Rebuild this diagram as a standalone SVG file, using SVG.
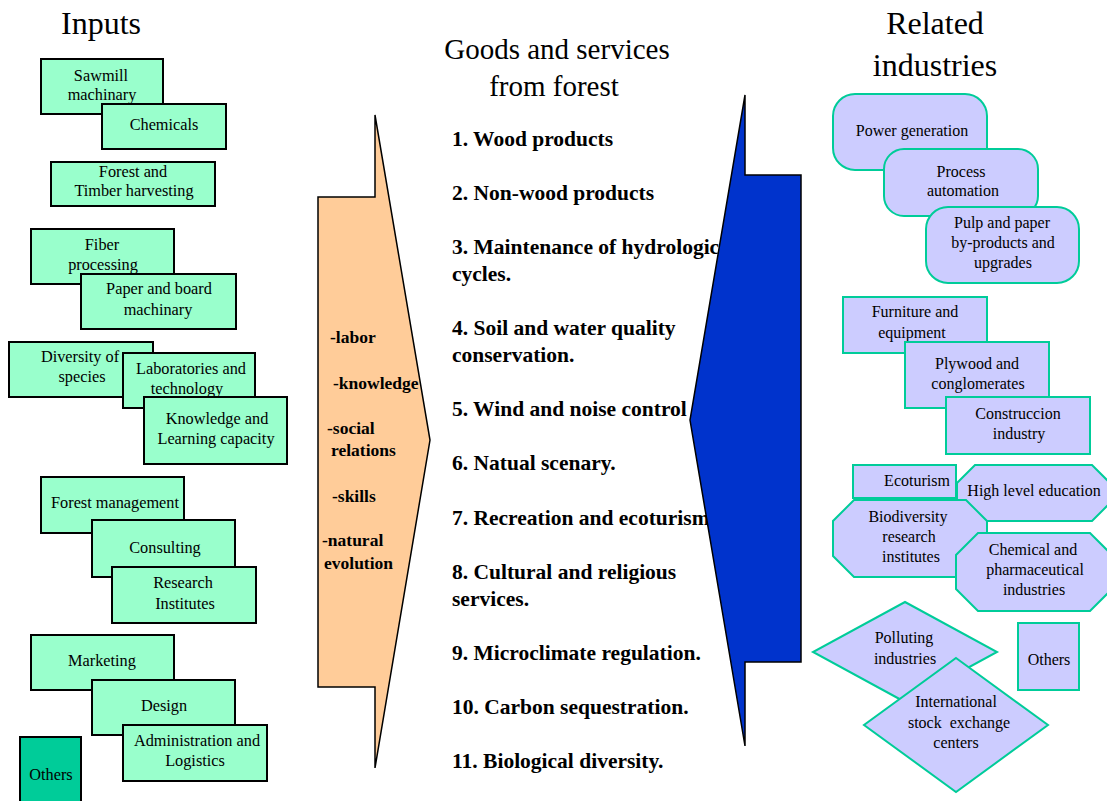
<svg xmlns="http://www.w3.org/2000/svg" width="1107" height="801" viewBox="0 0 1107 801">
<style>
text{font-family:"Liberation Serif","Times New Roman",serif;fill:#000}
.in rect{fill:#99ffcc;stroke:#000;stroke-width:2}
.in text{font-size:16.3px;text-anchor:middle}
.rl rect,.rl polygon{fill:#ccccff;stroke:#00cc99;stroke-width:2}
.rl text{font-size:16px;text-anchor:middle}
.hd{font-size:32px;text-anchor:middle}
.it{font-size:21.5px;font-weight:bold}
.fx{font-size:17.5px;font-weight:bold}
.arrow{stroke:#000;stroke-width:1.5}
</style>
<rect width="1107" height="801" fill="#fff"/>
<text class="hd" x="101" y="34">Inputs</text>
<text class="hd" x="557" y="59" style="font-size:29px">Goods and services</text>
<text class="hd" x="554" y="96" style="font-size:29px">from forest</text>
<text class="hd" x="935" y="34">Related</text>
<text class="hd" x="935" y="76">industries</text>

<g id="arrow-orange">
<polygon class="arrow" points="318,197 375,197 375,115 430,440 375,768 375,687 318,687" fill="#ffcc99"/>
<text class="fx" x="330" y="343">-labor</text>
<text class="fx" x="333" y="389">-knowledge</text>
<text class="fx" x="327" y="434">-social</text>
<text class="fx" x="331" y="456">relations</text>
<text class="fx" x="332" y="502">-skills</text>
<text class="fx" x="322" y="546">-natural</text>
<text class="fx" x="324" y="569">evolution</text>
</g>

<g id="goods">
<text class="it" x="452" y="146">1. Wood products</text>
<text class="it" x="452" y="200">2. Non-wood products</text>
<text class="it" x="452" y="254">3. Maintenance of hydrologic</text>
<text class="it" x="452" y="281">cycles.</text>
<text class="it" x="452" y="335">4. Soil and water quality</text>
<text class="it" x="452" y="362">conservation.</text>
<text class="it" x="452" y="416">5. Wind and noise control</text>
<text class="it" x="452" y="470">6. Natual scenary.</text>
<text class="it" x="452" y="525">7. Recreation and ecoturism</text>
<text class="it" x="452" y="579">8. Cultural and religious</text>
<text class="it" x="452" y="606">services.</text>
<text class="it" x="452" y="660">9. Microclimate regulation.</text>
<text class="it" x="452" y="714">10. Carbon sequestration.</text>
<text class="it" x="452" y="768">11. Biological diversity.</text>
</g>

<g id="arrow-blue">
<polygon class="arrow" points="801,175 745,175 745,95 690,420 745,746 745,662 801,662" fill="#0033cc"/>
</g>

<g id="connectors"></g>

<g class="in">
<g id="sawmill"><rect x="41" y="59" width="122" height="55"/><text x="101" y="81">Sawmill</text><text x="102" y="100">machinary</text></g>
<g id="chemicals"><rect x="102" y="104" width="124" height="45"/><text x="164" y="130">Chemicals</text></g>
<g id="forest-timber"><rect x="51" y="162" width="164" height="44"/><text x="133" y="177">Forest and</text><text x="134" y="196">Timber harvesting</text></g>
<g id="fiber"><rect x="31" y="229" width="143" height="55"/><text x="102" y="250">Fiber</text><text x="103" y="270">processing</text></g>
<g id="paper-board"><rect x="81" y="274" width="155" height="55"/><text x="159" y="294">Paper and board</text><text x="158" y="315">machinary</text></g>
<g id="diversity"><rect x="9" y="342" width="144" height="55"/><text x="80" y="362">Diversity of</text><text x="82" y="382">species</text></g>
<g id="laboratories"><rect x="123" y="353" width="132" height="55"/><text x="191" y="374">Laboratories and</text><text x="187" y="394">technology</text></g>
<g id="knowledge"><rect x="144" y="397" width="143" height="67"/><text x="217" y="424">Knowledge and</text><text x="216" y="444">Learning capacity</text></g>
<g id="forest-mgmt"><rect x="41" y="477" width="143" height="56"/><text x="115" y="508">Forest management</text></g>
<g id="consulting"><rect x="92" y="520" width="143" height="57"/><text x="165" y="553">Consulting</text></g>
<g id="research"><rect x="112" y="567" width="144" height="56"/><text x="183" y="588">Research</text><text x="185" y="609">Institutes</text></g>
<g id="marketing"><rect x="31" y="635" width="143" height="55"/><text x="102" y="666">Marketing</text></g>
<g id="design"><rect x="92" y="680" width="143" height="55"/><text x="164" y="711">Design</text></g>
<g id="admin"><rect x="123" y="725" width="144" height="56"/><text x="197" y="746">Administration and</text><text x="195" y="766">Logistics</text></g>
<g id="others-in"><rect x="20" y="737" width="61" height="70" style="fill:#00cc99"/><text x="51" y="780">Others</text></g>
</g>

<g class="rl">
<g id="power"><rect x="833" y="94" width="154" height="76" rx="22"/><text x="912" y="136">Power generation</text></g>
<g id="process"><rect x="884" y="149" width="154" height="67" rx="20"/><text x="961" y="177">Process</text><text x="963" y="196">automation</text></g>
<g id="pulp"><rect x="926" y="207" width="153" height="76" rx="22"/><text x="1002" y="228">Pulp and paper</text><text x="1003" y="248">by-products and</text><text x="1003" y="268">upgrades</text></g>
<g id="furniture"><rect x="843" y="297" width="144" height="56"/><text x="915" y="317">Furniture and</text><text x="912" y="338">equipment</text></g>
<g id="plywood"><rect x="905" y="342" width="144" height="66"/><text x="977" y="369">Plywood and</text><text x="978" y="389">conglomerates</text></g>
<g id="construccion"><rect x="946" y="397" width="144" height="57"/><text x="1018" y="419">Construccion</text><text x="1019" y="439">industry</text></g>
<g id="ecoturism"><rect x="853" y="465" width="103" height="33"/><text x="917" y="486">Ecoturism</text></g>
<g id="high-edu"><polygon points="975,465 1092,465 1110,483 1110,503 1092,521 975,521 957,503 957,483"/><text x="1034" y="496">High level education</text></g>
<g id="biodiversity"><polygon points="854,500 966,500 987,521 987,556 966,577 854,577 833,556 833,521"/><text x="908" y="522">Biodiversity</text><text x="909" y="542">research</text><text x="911" y="562">institutes</text></g>
<g id="chemical"><polygon points="978,533 1090,533 1112,555 1112,589 1090,611 978,611 956,589 956,555"/><text x="1033" y="555">Chemical and</text><text x="1035" y="575">pharmaceutical</text><text x="1034" y="595">industries</text></g>
<g id="polluting"><polygon points="905,602 997,652 905,702 813,652"/><text x="904" y="643">Polluting</text><text x="905" y="664">industries</text></g>
<g id="others-rl"><rect x="1018" y="623" width="61" height="67"/><text x="1049" y="665">Others</text></g>
<g id="intl"><polygon points="956,658 1048,725 956,792 864,725"/><text x="956" y="707">International</text><text x="959" y="728">stock&#160; exchange</text><text x="956" y="748">centers</text></g>
</g>
</svg>
